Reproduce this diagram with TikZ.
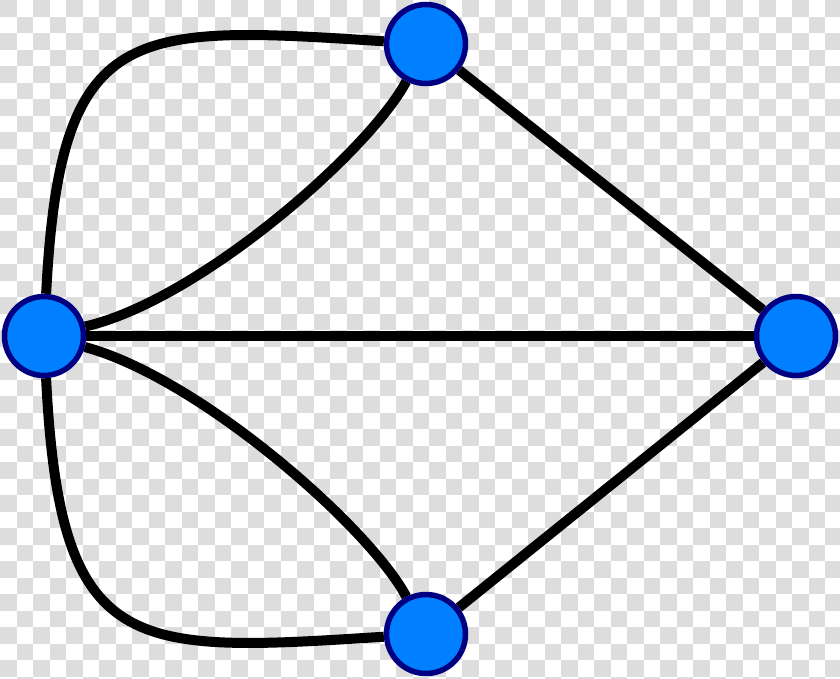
\documentclass[tikz,border=0pt]{standalone}
\usetikzlibrary{backgrounds}
\definecolor{vertexblue}{RGB}{0,128,255}
\definecolor{vertexrim}{RGB}{0,0,128}
\definecolor{checkgray}{RGB}{221,221,221}
\begin{document}
\begin{tikzpicture}[x=1pt,y=-1pt,
        vertex/.style={circle,fill=vertexblue,draw=vertexrim,line width=5.5pt,minimum size=79pt,inner sep=0pt},
        bridge/.style={line width=10pt}]
        \def\c{16.5}
        \useasboundingbox (0,0) rectangle (840,678);
        %% land masses
        \node[vertex] (T) at (426,44) {};
        \node[vertex] (L) at (44,336) {};
        \node[vertex] (R) at (796,336) {};
        \node[vertex] (B) at (426,634) {};
        \begin{scope}[on background layer]
            %% checkerboard
            \clip (0,0) rectangle (840,678);
            \fill[white] (0,0) rectangle (840,678);
            \foreach \i in {0,2,...,50}
                \foreach \j in {0,2,...,40} {
                    \fill[checkgray] (\i*\c,\j*\c) rectangle +(\c,\c);
                    \fill[checkgray] (\i*\c+\c,\j*\c+\c) rectangle +(\c,\c);
                }
            %% bridges
            \draw[bridge] (L) -- (R);
            \draw[bridge] (T) -- (R);
            \draw[bridge] (B) -- (R);
            \draw[bridge] (L) .. controls (200,300) and (370,150) .. (T);
            \draw[bridge] (L) .. controls (60,20) and (130,25) .. (T);
            \draw[bridge] (L) .. controls (200,378) and (370,528) .. (B);
            \draw[bridge] (L) .. controls (60,658) and (130,653) .. (B);
        \end{scope}
    \end{tikzpicture}
\end{document}
